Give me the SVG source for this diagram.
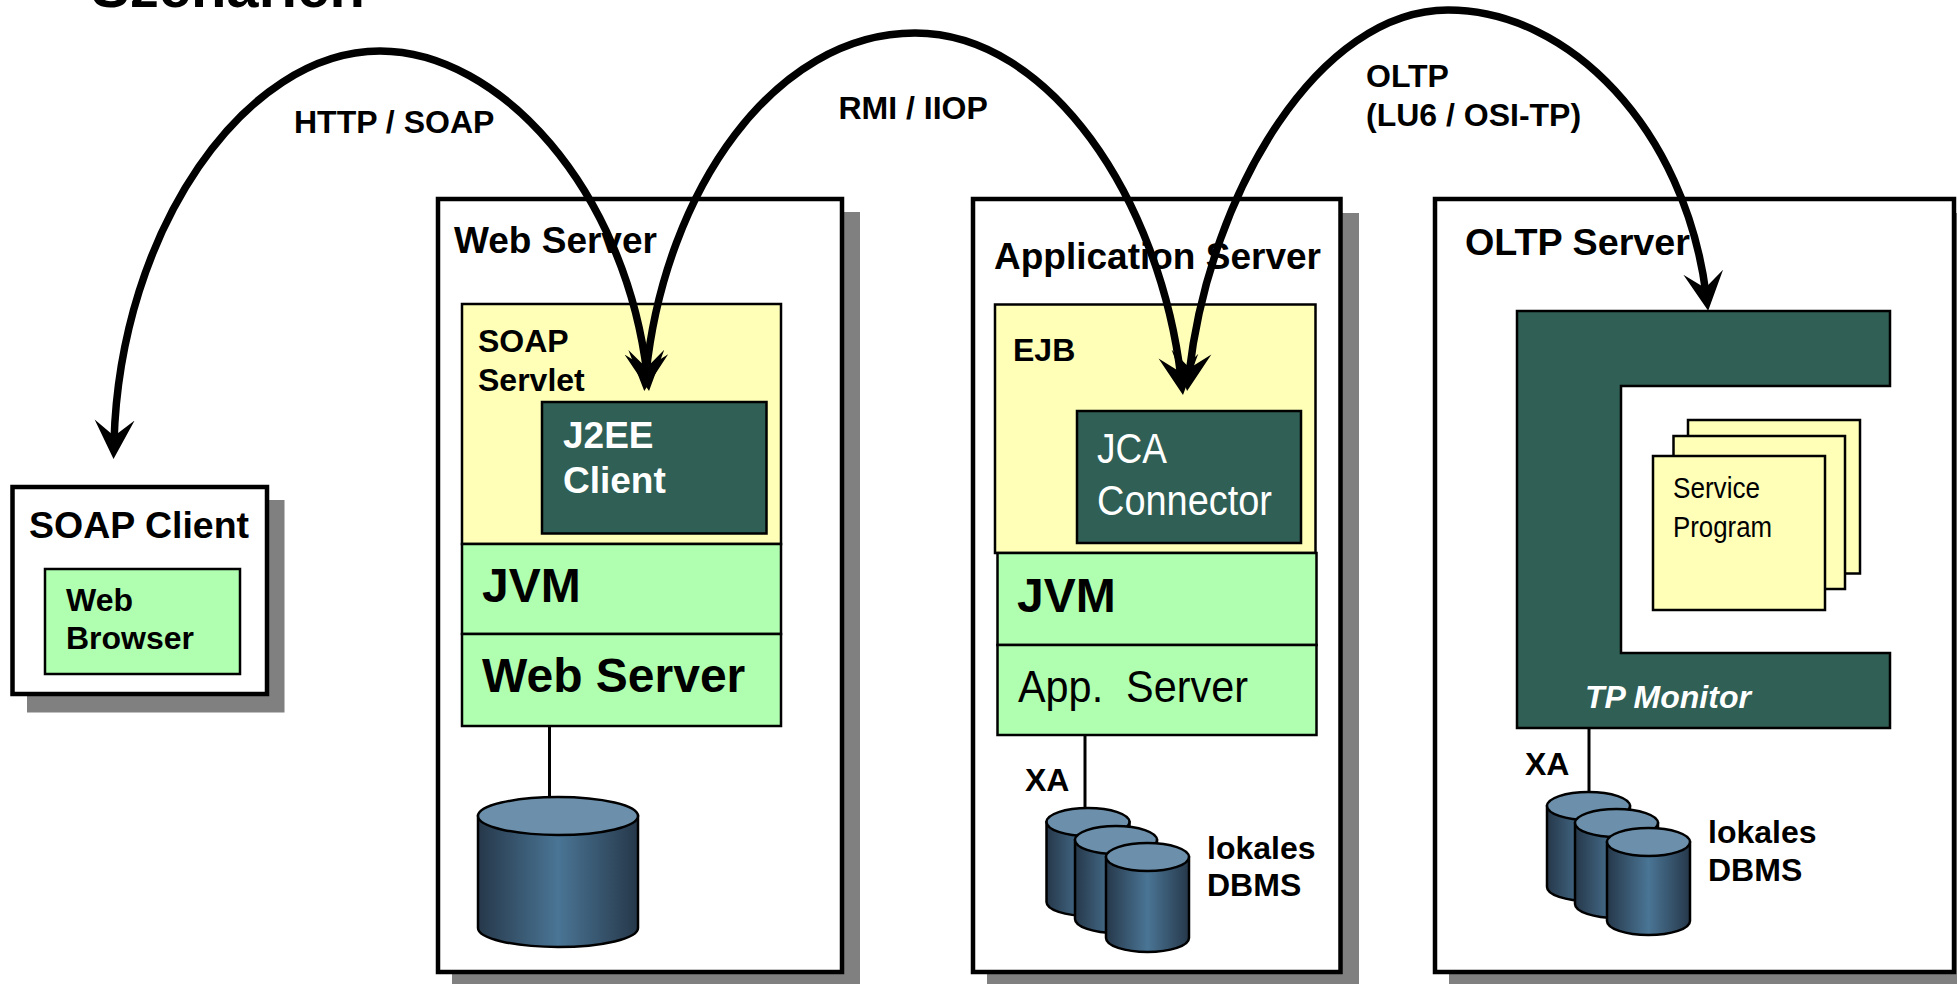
<svg xmlns="http://www.w3.org/2000/svg" width="1957" height="984" viewBox="0 0 1957 984">
<style>
text{font-family:"Liberation Sans",Arial,sans-serif;font-weight:700;fill:#000;white-space:pre}
.t32{font-size:32px}.t37{font-size:37px}.t48{font-size:48px}
.reg{font-weight:400}
.w{fill:#fff}
.box{fill:#fff;stroke:#000;stroke-width:4.5}
.sh{fill:#808080}
.y{fill:#ffffb8;stroke:#000;stroke-width:2.5}
.g{fill:#b0ffb0;stroke:#000;stroke-width:2.5}
.d{fill:#2f5f55;stroke:#000;stroke-width:2.5}
.ln{stroke:#000;stroke-width:3;fill:none}
.arc{fill:none;stroke:#000;stroke-width:7.500}
.cb{fill:url(#cyl);stroke:#000;stroke-width:2.5}
.ct{fill:#6c90ab;stroke:#000;stroke-width:2.5}
</style>
<defs>
<linearGradient id="cyl"><stop offset="0" stop-color="#26384a"/><stop offset=".5" stop-color="#4a7595"/><stop offset="1" stop-color="#26384a"/></linearGradient>
<marker id="head" markerUnits="userSpaceOnUse" markerWidth="52" markerHeight="52" viewBox="0 -26 52 52" refX="22" refY="0" orient="auto-start-reverse"><path d="M39,0L0,-20L16,0L0,20Z" fill="#000"/></marker>
</defs>
<text id="title" x="91" y="7" style="font-size:58px">Szenarien</text>

<g id="soap-client">
<rect class="sh" x="27" y="500" width="257.500" height="212.500"/>
<rect class="box" x="12.500" y="487" width="254.500" height="207"/>
<text class="t37" x="29" y="538" textLength="220" lengthAdjust="spacingAndGlyphs">SOAP Client</text>
<rect class="g" x="45" y="569" width="195" height="105"/>
<text class="t32" x="66" y="611">Web</text>
<text class="t32" x="66" y="649">Browser</text>
</g>

<g id="web-server">
<rect class="sh" x="452" y="212" width="408" height="772"/>
<rect class="box" x="438" y="199" width="404" height="773"/>
<text class="t37" x="454" y="253">Web Server</text>
<rect class="y" x="462" y="304" width="319" height="240"/>
<text class="t32" x="478" y="352">SOAP</text>
<text class="t32" x="478" y="390.500">Servlet</text>
<rect class="d" x="542" y="402" width="224.500" height="131.500"/>
<text class="t37 w" x="563" y="448">J2EE</text>
<text class="t37 w" x="563" y="492.500">Client</text>
<rect class="g" x="462" y="544" width="319" height="90"/>
<text class="t48" x="482" y="601.500">JVM</text>
<rect class="g" x="462" y="634" width="319" height="92"/>
<text class="t48" x="482" y="691.500">Web Server</text>
<line class="ln" x1="549.500" y1="726" x2="549.500" y2="798"/>
<path class="cb" d="M478,816V928A80,19 0 0 0 638,928V816Z"/>
<ellipse class="ct" cx="558" cy="816" rx="80" ry="19"/>
</g>

<g id="application-server">
<rect class="sh" x="987" y="213" width="372" height="771"/>
<rect class="box" x="973" y="199" width="367.500" height="773"/>
<text class="t37" x="994" y="269">Application Server</text>
<rect class="y" x="995" y="304.500" width="320.500" height="248.500"/>
<text class="t32" x="1013" y="361">EJB</text>
<rect class="d" x="1077" y="411" width="224" height="132"/>
<text class="reg w" x="1097" y="463" style="font-size:42px" textLength="70" lengthAdjust="spacingAndGlyphs">JCA</text>
<text class="reg w" x="1097" y="515" style="font-size:42px" textLength="175" lengthAdjust="spacingAndGlyphs">Connector</text>
<rect class="g" x="997.500" y="553" width="319" height="92"/>
<text class="t48" x="1017" y="611.500">JVM</text>
<rect class="g" x="997.500" y="645" width="319" height="90"/>
<text class="reg" x="1018" y="701.500" style="font-size:44px" textLength="230" lengthAdjust="spacingAndGlyphs">App.  Server</text>
<text class="t32" x="1025" y="791">XA</text>
<line class="ln" x1="1085" y1="735" x2="1085" y2="808"/>
<path class="cb" d="M1046.500,822V902A41.500,14 0 0 0 1129.500,902V822Z"/>
<ellipse class="ct" cx="1088" cy="822" rx="41.500" ry="14"/>
<path class="cb" d="M1075,840V919A41,14 0 0 0 1157,919V840Z"/>
<ellipse class="ct" cx="1116" cy="840" rx="41" ry="14"/>
<path class="cb" d="M1106,857V938A41.500,14 0 0 0 1189,938V857Z"/>
<ellipse class="ct" cx="1147.500" cy="857" rx="41.500" ry="14"/>
<text class="t32" x="1207" y="858.500">lokales</text>
<text class="t32" x="1207" y="896">DBMS</text>
</g>

<g id="oltp-server">
<rect class="sh" x="1449" y="213" width="508" height="771"/>
<rect class="box" x="1435" y="199" width="519" height="773"/>
<text class="t37" x="1465" y="255" textLength="225" lengthAdjust="spacingAndGlyphs">OLTP Server</text>
<path class="d" d="M1517,311H1890V386H1621V653H1890V728H1517Z"/>
<text class="t32 w" x="1585" y="708" style="font-style:italic">TP Monitor</text>
<rect class="y" x="1688" y="420" width="172" height="153.500"/>
<rect class="y" x="1673.500" y="436" width="171.500" height="153"/>
<rect class="y" x="1653" y="456" width="172" height="154"/>
<text class="reg" x="1673" y="498" style="font-size:29px" textLength="87" lengthAdjust="spacingAndGlyphs">Service</text>
<text class="reg" x="1673" y="536.500" style="font-size:29px" textLength="99" lengthAdjust="spacingAndGlyphs">Program</text>
<text class="t32" x="1525" y="775">XA</text>
<line class="ln" x1="1589" y1="728" x2="1589" y2="792"/>
<path class="cb" d="M1547,806V887A41.500,14 0 0 0 1630,887V806Z"/>
<ellipse class="ct" cx="1588.500" cy="806" rx="41.500" ry="14"/>
<path class="cb" d="M1575,823V904A41.500,14 0 0 0 1658,904V823Z"/>
<ellipse class="ct" cx="1616.500" cy="823" rx="41.500" ry="14"/>
<path class="cb" d="M1607,842V921A41.500,14 0 0 0 1690,921V842Z"/>
<ellipse class="ct" cx="1648.500" cy="842" rx="41.500" ry="14"/>
<text class="t32" x="1708" y="843">lokales</text>
<text class="t32" x="1708" y="880.500">DBMS</text>
</g>

<g id="connectors">
<path class="arc" marker-start="url(#head)" marker-end="url(#head)" d="M114,442C120,230 245,51 380,51C500,51 625,190 647,374"/>
<path class="arc" marker-start="url(#head)" marker-end="url(#head)" d="M646,374C665,190 775,33 915,33C1050,33 1160,200 1181,378"/>
<path class="arc" marker-start="url(#head)" marker-end="url(#head)" d="M1189,374C1210,190 1320,10 1448,10C1570,10 1685,130 1706,294"/>
</g>
<text class="t32" x="294" y="133">HTTP / SOAP</text>
<text class="t32" x="838.500" y="118.500">RMI / IIOP</text>
<text class="t32" x="1366" y="87">OLTP</text>
<text class="t32" x="1366" y="126">(LU6 / OSI-TP)</text>
</svg>
